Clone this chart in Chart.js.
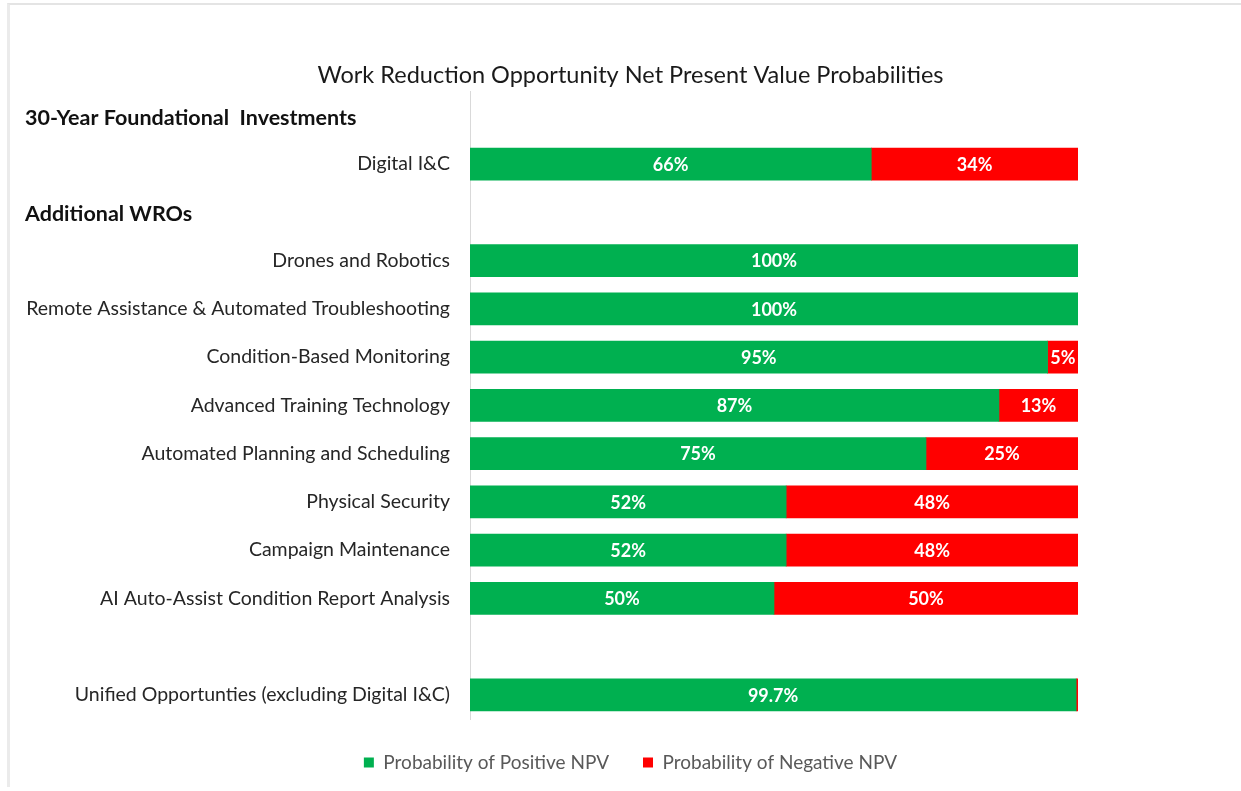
<!DOCTYPE html>
<html>
<head>
<meta charset="utf-8">
<title>Work Reduction Opportunity NPV Probabilities</title>
<script src="https://cdn.jsdelivr.net/npm/chart.js@4.4.1/dist/chart.umd.min.js"></script>
<style>
    html, body {
        margin: 0;
        padding: 0;
        background: #ffffff;
    }
    .wrap {
        position: relative;
        width: 1241px;
        height: 791px;
    }
    .frame {
        position: absolute;
        left: 7px;
        top: 3px;
        right: 0;
        bottom: 4px;
        border-top: 2px solid #e4e4e4;
        border-left: 3px solid #ebebeb;
        pointer-events: none;
    }
</style>
</head>
<body>
<div class="wrap">
    <canvas id="npv-probability-chart" width="1241" height="791"></canvas>
    <div class="frame"></div>
</div>
<script>
'use strict';

// rows with an empty label are spacer rows (section headings / gap)
var categories = [
    '',
    'Digital I&C',
    '',
    'Drones and Robotics',
    'Remote Assistance & Automated Troubleshooting',
    'Condition-Based Monitoring',
    'Advanced Training Technology',
    'Automated Planning and Scheduling',
    'Physical Security',
    'Campaign Maintenance',
    'AI Auto-Assist Condition Report Analysis',
    '',
    'Unified Opportunties (excluding Digital I&C)',
];

var positiveNpv = [null, 66, null, 100, 100, 95, 87, 75, 52, 52, 50, null, 99.7];
var negativeNpv = [null, 34, null, 0, 0, 5, 13, 25, 48, 48, 50, null, 0.3];

var sectionHeadings = [
    { row: 0, text: '30-Year Foundational  Investments' },
    { row: 2, text: 'Additional WROs' },
];

var fontFamily = 'Lato, "Open Sans", sans-serif';

// bold section headings, left aligned against the canvas edge
var sectionHeadingPlugin = {
    id: 'sectionHeadings',
    afterDraw: function (chart) {
        var ctx = chart.ctx;
        var yScale = chart.scales.y;
        ctx.save();
        ctx.font = 'bold 21.5px ' + fontFamily;
        ctx.fillStyle = '#111111';
        ctx.textAlign = 'left';
        ctx.textBaseline = 'middle';
        sectionHeadings.forEach(function (h) {
            ctx.fillText(h.text, 25, yScale.getPixelForValue(h.row) + 2);
        });
        ctx.restore();
    },
};

// white percentage labels in the middle of each segment
var innerBarTextPlugin = {
    id: 'innerBarText',
    afterDatasetsDraw: function (chart) {
        var ctx = chart.ctx;
        ctx.save();
        ctx.font = 'bold 18px ' + fontFamily;
        ctx.fillStyle = '#ffffff';
        ctx.textAlign = 'center';
        ctx.textBaseline = 'middle';
        chart.data.datasets.forEach(function (ds, di) {
            var meta = chart.getDatasetMeta(di);
            meta.data.forEach(function (bar, i) {
                var v = ds.data[i];
                if (v === null || v < 1) {
                    return;
                }
                var label = (Number.isInteger(v) ? v : v.toFixed(1)) + '%';
                var x = (bar.x + bar.base) / 2;
                ctx.fillText(label, x, bar.y + 1);
            });
        });
        ctx.restore();
    },
};

var $canvas = document.getElementById('npv-probability-chart');

var npvChart = new Chart($canvas, {
    type: 'bar',
    data: {
        labels: categories,
        datasets: [
            {
                label: 'Probability of Positive NPV',
                data: positiveNpv,
                yAxisID: 'y',
                backgroundColor: '#00B050',
                borderWidth: 0,
                barThickness: 32,
            },
            {
                label: 'Probability of Negative NPV',
                data: negativeNpv,
                yAxisID: 'y',
                backgroundColor: '#FF0000',
                borderWidth: 0,
                barThickness: 32,
            },
        ],
    },
    options: {
        indexAxis: 'y',
        responsive: false,
        animation: false,
        layout: {
            padding: {
                left: 20,
                right: 0,
                top: 0,
                bottom: 9,
            },
        },
        scales: {
            x: {
                stacked: true,
                display: false,
                min: 0,
                max: 100,
            },
            y: {
                stacked: true,
                afterFit: function (scale) {
                    scale.width = 450;
                },
                grid: {
                    display: false,
                    drawTicks: false,
                },
                border: {
                    display: true,
                    color: '#d9d9d9',
                    width: 1,
                },
                ticks: {
                    color: '#262626',
                    padding: 20,
                    autoSkip: false,
                    font: {
                        family: fontFamily,
                        size: 19.5,
                    },
                },
            },
            // empty right-hand gutter so title and legend stay centred on the page
            gutter: {
                axis: 'y',
                position: 'right',
                afterFit: function (scale) {
                    scale.width = 163;
                },
                grid: {
                    display: false,
                    drawTicks: false,
                },
                border: {
                    display: false,
                },
                ticks: {
                    display: false,
                },
            },
        },
        plugins: {
            title: {
                display: true,
                text: 'Work Reduction Opportunity Net Present Value Probabilities',
                color: '#1a1a1a',
                padding: {
                    top: 61,
                    bottom: 2.5,
                },
                font: {
                    family: fontFamily,
                    size: 23.5,
                    weight: 'normal',
                },
            },
            legend: {
                position: 'bottom',
                labels: {
                    color: '#595959',
                    boxWidth: 10,
                    boxHeight: 10,
                    padding: 34,
                    font: {
                        family: fontFamily,
                        size: 19,
                    },
                },
            },
            tooltip: {
                enabled: false,
            },
        },
    },
    plugins: [sectionHeadingPlugin, innerBarTextPlugin],
});
</script>
</body>
</html>
